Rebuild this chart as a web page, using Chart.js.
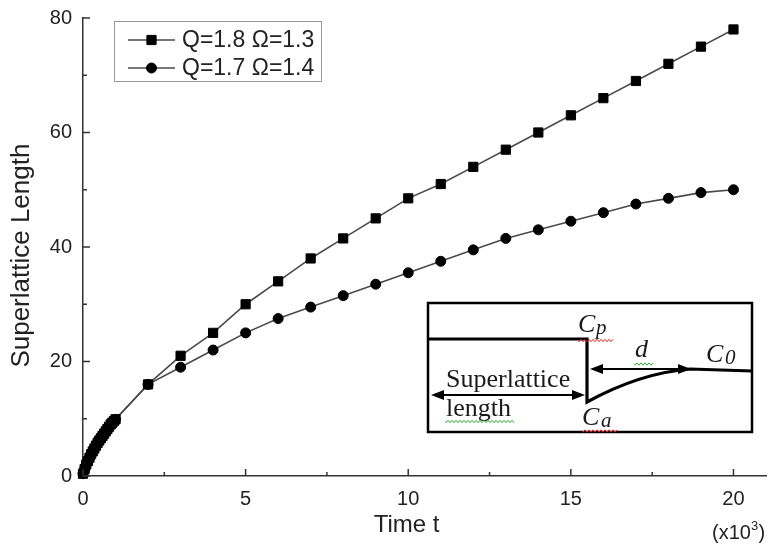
<!DOCTYPE html>
<html>
<head>
<meta charset="utf-8">
<script src="https://cdn.jsdelivr.net/npm/chart.js@4"></script>
<style>
  html, body { margin: 0; padding: 0; background: #fff; }
  #wrap { width: 776px; height: 550px; }
</style>
</head>
<body>
<div id="wrap"><canvas id="chartLength" width="776" height="550"></canvas></div>
<script>
// ── Data ──────────────────────────────────────────────────────────────────────

// time in units of 10^3, the first unit is sampled densely
const tEarly   = [0, 0.05, 0.1, 0.15, 0.2, 0.25, 0.3, 0.35, 0.4, 0.45, 0.5,
                  0.55, 0.6, 0.65, 0.7, 0.75, 0.8, 0.85, 0.9, 0.95, 1.0];
const lenEarly = [0.4, 1.2, 2.0, 2.6, 3.2, 3.8, 4.3, 4.8, 5.3, 5.8, 6.2,
                  6.6, 7.0, 7.4, 7.8, 8.2, 8.6, 9.0, 9.3, 9.6, 9.9];

const tLate  = [2, 3, 4, 5, 6, 7, 8, 9, 10, 11, 12, 13, 14, 15, 16, 17, 18, 19, 20];
const lenQ18 = [16, 21, 25, 30, 34, 38, 41.5, 45, 48.5, 51, 54, 57, 60, 63, 66, 69, 72, 75, 78];
const lenQ17 = [16, 19, 22, 25, 27.5, 29.5, 31.5, 33.5, 35.5, 37.5, 39.5, 41.5, 43, 44.5, 46, 47.5, 48.5, 49.5, 50];

const seriesLabels = ['Q=1.8 \u03A9=1.3', 'Q=1.7 \u03A9=1.4'];

const xTickValues  = [0, 5, 10, 15, 20];
const xMinorValues = [2.5, 7.5, 12.5, 17.5];
const yTickValues  = [0, 20, 40, 60, 80];
const yMinorValues = [10, 30, 50, 70];

const toPoints = (ts, ys) => ts.map((t, i) => ({ x: t, y: ys[i] }));

const SANS  = '"Liberation Sans", Arial, sans-serif';
const SERIF = '"Liberation Serif", "Times New Roman", serif';

// ── Plugins ───────────────────────────────────────────────────────────────────

// inward tick marks, majors and minors
const tickMarks = {
  id: 'tickMarks',
  afterDraw(chart) {
    const { ctx, chartArea: a, scales: { x, y } } = chart;
    ctx.save();
    ctx.strokeStyle = '#333';
    ctx.lineWidth = 1.5;
    ctx.beginPath();
    const xt = (v, len) => { const px = x.getPixelForValue(v); ctx.moveTo(px, a.bottom); ctx.lineTo(px, a.bottom - len); };
    const yt = (v, len) => { const py = y.getPixelForValue(v); ctx.moveTo(a.left, py); ctx.lineTo(a.left + len, py); };
    xTickValues.forEach(v => xt(v, 7));
    xMinorValues.forEach(v => xt(v, 4));
    yTickValues.forEach(v => yt(v, 7));
    yMinorValues.forEach(v => yt(v, 4));
    ctx.stroke();
    ctx.restore();
  },
};

// axis titles and the multiplier note
const axisText = {
  id: 'axisText',
  afterDraw(chart) {
    const { ctx, chartArea: a, scales: { x, y } } = chart;
    ctx.save();
    ctx.fillStyle = '#222';
    ctx.textAlign = 'center';
    ctx.textBaseline = 'middle';
    ctx.font = `24px ${SANS}`;
    ctx.fillText('Time t', x.getPixelForValue(9.95), a.bottom + 49);

    ctx.translate(22, y.getPixelForValue(38.5));
    ctx.rotate(-Math.PI / 2);
    ctx.font = `26px ${SANS}`;
    ctx.fillText('Superlattice Length', 0, 0);
    ctx.restore();

    ctx.save();
    ctx.fillStyle = '#222';
    ctx.font = `20px ${SANS}`;
    ctx.textBaseline = 'alphabetic';
    ctx.textAlign = 'left';
    const x0 = a.right - 54, base = a.bottom + 63;
    ctx.fillText('(x10', x0, base);
    const w = ctx.measureText('(x10').width;
    ctx.font = `13px ${SANS}`;
    ctx.fillText('3', x0 + w, base - 9);
    ctx.font = `20px ${SANS}`;
    ctx.fillText(')', x0 + w + 7.5, base);
    ctx.restore();
  },
};

// boxed legend in the upper left corner
const boxLegend = {
  id: 'boxLegend',
  afterDraw(chart) {
    const { ctx, chartArea: a } = chart;
    const L = a.left + 31, T = a.top + 3, W = 207, H = 60;
    ctx.save();
    ctx.fillStyle = '#fff';
    ctx.fillRect(L, T, W, H);
    ctx.strokeStyle = '#999';
    ctx.lineWidth = 1;
    ctx.strokeRect(L + 0.5, T + 0.5, W, H);
    chart.data.datasets.forEach((ds, i) => {
      const cy = T + 19 + i * 28;
      ctx.strokeStyle = ds.borderColor;
      ctx.lineWidth = ds.borderWidth;
      ctx.beginPath();
      ctx.moveTo(L + 14, cy);
      ctx.lineTo(L + 61, cy);
      ctx.stroke();
      ctx.fillStyle = ds.pointBackgroundColor;
      ctx.strokeStyle = ds.pointBorderColor;
      ctx.lineWidth = ds.pointBorderWidth;
      Chart.helpers.drawPoint(ctx, { pointStyle: ds.pointStyle, radius: ds.pointRadius, rotation: 0, borderWidth: ds.pointBorderWidth }, L + 37.5, cy);
      ctx.fillStyle = '#222';
      ctx.font = `23px ${SANS}`;
      ctx.textAlign = 'left';
      ctx.textBaseline = 'middle';
      ctx.fillText(ds.label, L + 68, cy + 1);
    });
    ctx.restore();
  },
};

// schematic of the concentration profile at the growth front
function doubleArrow(ctx, x1, x2, y) {
  const head = 13, half = 5;
  ctx.lineWidth = 2;
  ctx.beginPath();
  ctx.moveTo(x1 + head - 2, y);
  ctx.lineTo(x2 - head + 2, y);
  ctx.stroke();
  ctx.beginPath();
  ctx.moveTo(x1, y); ctx.lineTo(x1 + head, y - half); ctx.lineTo(x1 + head, y + half); ctx.closePath();
  ctx.moveTo(x2, y); ctx.lineTo(x2 - head, y - half); ctx.lineTo(x2 - head, y + half); ctx.closePath();
  ctx.fill();
}

function squiggle(ctx, x1, x2, y, color) {
  ctx.save();
  ctx.strokeStyle = color;
  ctx.lineWidth = 1;
  ctx.beginPath();
  ctx.moveTo(x1, y);
  for (let x = x1, k = 0; x <= x2; x += 2, k++) ctx.lineTo(x, y + (k % 2 ? -1.2 : 1.2));
  ctx.stroke();
  ctx.restore();
}

const profileInset = {
  id: 'profileInset',
  afterDraw(chart) {
    const { ctx, chartArea: a } = chart;
    const L = a.left + 345, T = a.top + 285, W = 324, H = 129;
    ctx.save();
    ctx.fillStyle = '#fff';
    ctx.fillRect(L, T, W, H);
    ctx.strokeStyle = '#000';
    ctx.fillStyle = '#000';
    ctx.lineWidth = 2.5;
    ctx.strokeRect(L, T, W, H);

    // Cp plateau, drop to Ca, recovery towards C0
    ctx.lineWidth = 3.2;
    ctx.lineJoin = 'miter';
    ctx.beginPath();
    ctx.moveTo(L, T + 36);
    ctx.lineTo(L + 159, T + 36);
    ctx.lineTo(L + 159, T + 99);
    ctx.quadraticCurveTo(L + 212, T + 70, L + 262, T + 66);
    ctx.lineTo(L + W, T + 68);
    ctx.stroke();

    doubleArrow(ctx, L + 162, L + 263, T + 66);
    doubleArrow(ctx, L + 3, L + 157, T + 92);

    ctx.fillStyle = '#1a1a1a';
    ctx.textAlign = 'left';
    ctx.textBaseline = 'alphabetic';
    ctx.font = `26px ${SERIF}`;
    ctx.fillText('Superlattice', L + 18, T + 84);
    ctx.fillText('length', L + 18, T + 113);

    ctx.font = `italic 26px ${SERIF}`;
    ctx.fillText('C', L + 150, T + 29);
    ctx.fillText('C', L + 154, T + 122);
    ctx.fillText('d', L + 207, T + 54);
    ctx.fillText('C', L + 278, T + 59);
    ctx.font = `italic 21px ${SERIF}`;
    ctx.fillText('p', L + 168, T + 31);
    ctx.fillText('a', L + 173, T + 124);
    ctx.fillText('0', L + 297, T + 61);

    squiggle(ctx, L + 151, L + 185, T + 37.5, '#d22');
    squiggle(ctx, L + 155, L + 189, T + 128, '#d22');
    squiggle(ctx, L + 207, L + 225, T + 61, '#3a3');
    squiggle(ctx, L + 18, L + 87, T + 118.5, '#3a3');
    ctx.restore();
  },
};

// ── Chart ─────────────────────────────────────────────────────────────────────

const lineStyle = { borderColor: '#4a4a4a', borderWidth: 1.6, pointBackgroundColor: '#000', pointBorderColor: '#000', pointBorderWidth: 1, tension: 0, clip: false };

new Chart(document.getElementById('chartLength'), {
  type: 'line',
  data: {
    datasets: [
      {
        ...lineStyle,
        label: seriesLabels[0],
        data: toPoints(tEarly.concat(tLate), lenEarly.concat(lenQ18)),
        pointStyle: 'rect',
        pointRadius: 6.5,
      },
      {
        ...lineStyle,
        label: seriesLabels[1],
        data: toPoints(tEarly.concat(tLate), lenEarly.concat(lenQ17)),
        pointStyle: 'circle',
        pointRadius: 5,
      },
    ],
  },
  options: {
    responsive: false,
    animation: false,
    layout: { padding: { top: 18, right: 10, left: 0, bottom: 0 } },
    plugins: { legend: { display: false }, tooltip: { enabled: false } },
    scales: {
      x: {
        type: 'linear',
        min: 0,
        max: 21,
        afterBuildTicks: s => { s.ticks = xTickValues.map(v => ({ value: v })); },
        afterFit: s => { s.height = 74; s.paddingLeft = 0; s.paddingRight = 0; },
        grid: { display: false, drawTicks: false },
        border: { display: true, color: '#333', width: 1.5 },
        ticks: { color: '#222', padding: 11, maxRotation: 0, font: { family: SANS, size: 20 } },
      },
      y: {
        type: 'linear',
        min: 0,
        max: 80,
        afterBuildTicks: s => { s.ticks = yTickValues.map(v => ({ value: v })); },
        afterFit: s => { s.width = 83; s.paddingTop = 0; s.paddingBottom = 0; },
        grid: { display: false, drawTicks: false },
        border: { display: true, color: '#333', width: 1.5 },
        ticks: { color: '#222', padding: 11, font: { family: SANS, size: 20 } },
      },
    },
  },
  plugins: [tickMarks, axisText, boxLegend, profileInset],
});
</script>
</body>
</html>
